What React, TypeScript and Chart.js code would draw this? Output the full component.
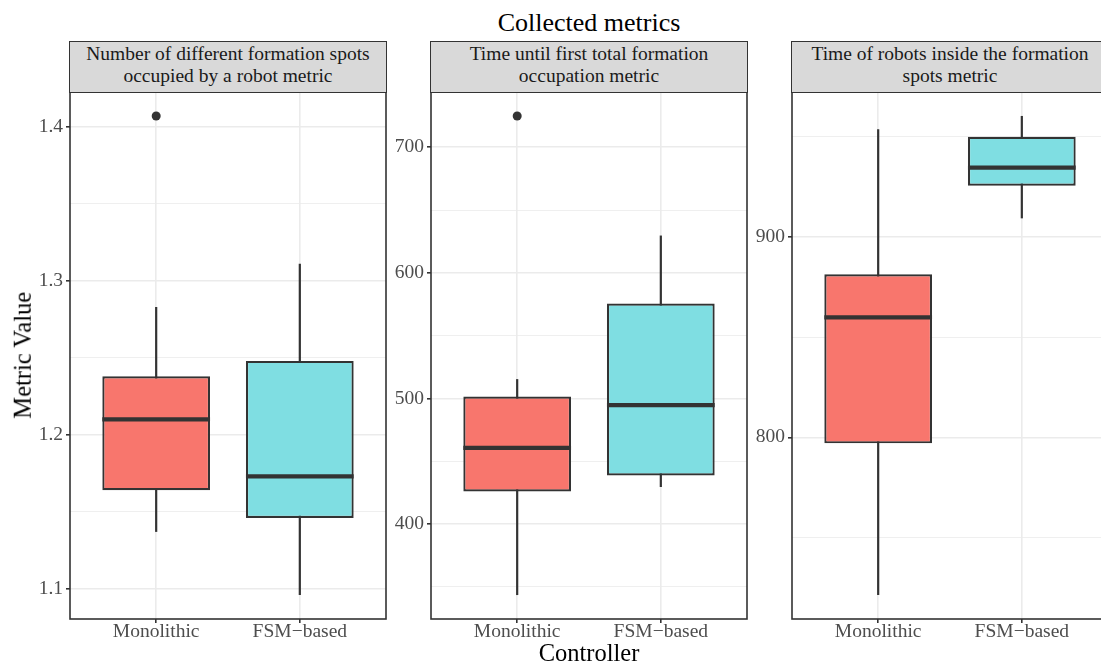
import React, { useEffect, useRef } from 'react';
import { Chart, registerables } from 'chart.js';

Chart.register(...registerables);

// ---------- data ----------
const categories = ['Monolithic', 'FSM−based'];
const categoryX = [1, 2];
const boxColors = ['rgb(248,118,109)', 'rgb(127,222,226)'];

const chartTitle = 'Collected metrics';
const xAxisTitle = 'Controller';
const yAxisTitle = 'Metric Value';

const spotsTitle = ['Number of different formation spots', 'occupied by a robot metric'];
const spotsLower = [1.137, 1.096];
const spotsQ1 = [1.164, 1.146];
const spotsMedian = [1.21, 1.173];
const spotsQ3 = [1.238, 1.248];
const spotsUpper = [1.283, 1.311];
const spotsOutliers = [[1.407], []];
const spotsTicks = [1.1, 1.2, 1.3, 1.4];

const firstTimeTitle = ['Time until first total formation', 'occupation metric'];
const firstTimeLower = [343.5, 429.5];
const firstTimeQ1 = [426, 438.7];
const firstTimeMedian = [460.7, 494.7];
const firstTimeQ3 = [501.6, 575.6];
const firstTimeUpper = [515.4, 629.7];
const firstTimeOutliers = [[724.9], []];
const firstTimeTicks = [400, 500, 600, 700];

const insideTitle = ['Time of robots inside the formation', 'spots metric'];
const insideLower = [721.3, 909.3];
const insideQ1 = [797, 925.6];
const insideMedian = [859.9, 934.6];
const insideQ3 = [881.4, 950];
const insideUpper = [953.8, 960.4];
const insideOutliers = [[], []];
const insideTicks = [800, 900];

type PanelData = {
  title: string[];
  lower: number[];
  q1: number[];
  median: number[];
  q3: number[];
  upper: number[];
  outliers: number[][];
  ticks: number[];
};

const panels: PanelData[] = [
  { title: spotsTitle, lower: spotsLower, q1: spotsQ1, median: spotsMedian, q3: spotsQ3, upper: spotsUpper, outliers: spotsOutliers, ticks: spotsTicks },
  { title: firstTimeTitle, lower: firstTimeLower, q1: firstTimeQ1, median: firstTimeMedian, q3: firstTimeQ3, upper: firstTimeUpper, outliers: firstTimeOutliers, ticks: firstTimeTicks },
  { title: insideTitle, lower: insideLower, q1: insideQ1, median: insideMedian, q3: insideQ3, upper: insideUpper, outliers: insideOutliers, ticks: insideTicks },
];

// ---------- layout ----------
const FONT = "'Liberation Serif', 'Times New Roman', Times, serif";
const DARK = '#333333';
const GRID = '#ebebeb';
const plotLefts = [70, 431, 792];
const plotWidth = 316;
const plotTop = 92;
const plotHeight = 527;
const yAxisWidth = 60;
const xAxisHeight = 40;
const padTop = 2;
const padRight = 2;

function makePlugin(p: PanelData) {
  return {
    id: 'boxExtras',
    beforeDatasetsDraw(chart: any) {
      const { ctx, scales } = chart;
      ctx.save();
      ctx.strokeStyle = DARK;
      ctx.lineWidth = 2.2;
      categoryX.forEach((xv, i) => {
        const x = scales.x.getPixelForValue(xv);
        ctx.beginPath();
        ctx.moveTo(x, scales.y.getPixelForValue(p.lower[i]));
        ctx.lineTo(x, scales.y.getPixelForValue(p.upper[i]));
        ctx.stroke();
      });
      ctx.restore();
    },
    afterDatasetsDraw(chart: any) {
      const { ctx, scales } = chart;
      const meta = chart.getDatasetMeta(0);
      ctx.save();
      ctx.strokeStyle = DARK;
      ctx.lineWidth = 4.2;
      meta.data.forEach((el: any, i: number) => {
        const { x, width } = el.getProps(['x', 'width'], true);
        const y = scales.y.getPixelForValue(p.median[i]);
        ctx.beginPath();
        ctx.moveTo(x - width / 2, y);
        ctx.lineTo(x + width / 2, y);
        ctx.stroke();
      });
      ctx.restore();
    },
    afterDraw(chart: any) {
      const { ctx, chartArea } = chart;
      ctx.save();
      ctx.strokeStyle = DARK;
      ctx.lineWidth = 1.6;
      ctx.strokeRect(chartArea.left, chartArea.top, chartArea.right - chartArea.left, chartArea.bottom - chartArea.top);
      ctx.restore();
    },
  };
}

function Panel({ p, left }: { p: PanelData; left: number }) {
  const ref = useRef<HTMLCanvasElement>(null);
  useEffect(() => {
    if (!ref.current) return;
    const all = [...p.lower, ...p.upper, ...p.outliers.flat()];
    const dmin = Math.min(...all);
    const dmax = Math.max(...all);
    const ext = (dmax - dmin) * 0.05;
    const ymin = dmin - ext;
    const ymax = dmax + ext;
    const step = p.ticks[1] - p.ticks[0];
    const yTicks: { value: number; minor: boolean }[] = [];
    for (let k = -1; k < p.ticks.length; k++) {
      if (k >= 0) yTicks.push({ value: p.ticks[k], minor: false });
      const base = k >= 0 ? p.ticks[k] : p.ticks[0] - step;
      const mv = base + step / 2;
      if (mv >= ymin && mv <= ymax) yTicks.push({ value: mv, minor: true });
    }
    yTicks.sort((a, b) => a.value - b.value);

    const outlierPoints: { x: number; y: number }[] = [];
    p.outliers.forEach((arr, i) => arr.forEach((v) => outlierPoints.push({ x: categoryX[i], y: v })));

    const chart = new Chart(ref.current, {
      type: 'bar',
      data: {
        datasets: [
          {
            type: 'bar',
            data: categoryX.map((x, i) => ({ x, y: [p.q1[i], p.q3[i]] })) as any,
            backgroundColor: boxColors,
            borderColor: DARK,
            borderWidth: 2.2,
            borderSkipped: false,
            categoryPercentage: 1,
            barPercentage: 0.75,
            grouped: false,
          } as any,
          {
            type: 'scatter',
            data: outlierPoints,
            pointRadius: 4.5,
            pointBackgroundColor: DARK,
            pointBorderWidth: 0,
            showLine: false,
          } as any,
        ],
      },
      options: {
        animation: false,
        responsive: false,
        maintainAspectRatio: false,
        devicePixelRatio: 1,
        events: [],
        layout: { autoPadding: false, padding: { top: padTop, right: padRight, left: 0, bottom: 0 } },
        plugins: { legend: { display: false }, tooltip: { enabled: false }, title: { display: false } },
        scales: {
          x: {
            type: 'linear',
            min: 0.4,
            max: 2.6,
            offset: false,
            border: { display: false },
            grid: { offset: false, color: GRID, lineWidth: 1.6, drawTicks: true, tickLength: 4, tickColor: DARK, tickWidth: 1.6 },
            ticks: {
              autoSkip: false,
              maxRotation: 0,
              minRotation: 0,
              padding: 0,
              color: '#4d4d4d',
              font: { family: FONT, size: 19.5, lineHeight: 0.9 },
              callback: (_v: any, i: number) => categories[i],
            },
            afterBuildTicks: (s: any) => {
              s.ticks = categoryX.map((v) => ({ value: v }));
            },
            afterFit: (s: any) => {
              s.height = xAxisHeight;
              s.paddingLeft = 0;
              s.paddingRight = 0;
            },
          },
          y: {
            type: 'linear',
            min: ymin,
            max: ymax,
            border: { display: false },
            grid: {
              color: GRID,
              lineWidth: (c: any) => (c.tick && c.tick.minor ? 0.8 : 1.6),
              drawTicks: true,
              tickLength: 4,
              tickWidth: 1.6,
              tickColor: (c: any) => (c.tick && c.tick.minor ? 'rgba(0,0,0,0)' : DARK),
            },
            ticks: {
              padding: 3,
              color: '#4d4d4d',
              font: { family: FONT, size: 19.5 },
              callback: (v: any, i: number, t: any[]) => (t[i] && t[i].minor ? '' : String(v)),
            },
            afterBuildTicks: (s: any) => {
              s.ticks = yTicks.map((t) => ({ value: t.value, minor: t.minor }));
            },
            afterFit: (s: any) => {
              s.width = yAxisWidth;
              s.paddingTop = 0;
              s.paddingBottom = 0;
            },
          },
        },
      } as any,
      plugins: [makePlugin(p)],
    });
    return () => chart.destroy();
  }, [p]);

  const cw = yAxisWidth + plotWidth + padRight;
  const ch = padTop + plotHeight + xAxisHeight;
  return (
    <>
      <canvas
        ref={ref}
        width={cw}
        height={ch}
        style={{ position: 'absolute', left: left - yAxisWidth, top: plotTop - padTop, width: cw, height: ch }}
      />
      <div
        style={{
          position: 'absolute',
          left: left - 0.8,
          top: 41,
          width: plotWidth + 1.6,
          height: 52,
          boxSizing: 'border-box',
          border: `1.6px solid ${DARK}`,
          background: '#d9d9d9',
          color: '#1a1a1a',
          fontFamily: FONT,
          fontSize: 19.5,
          lineHeight: '21.6px',
          textAlign: 'center',
          paddingTop: 1.2,
          whiteSpace: 'nowrap',
        }}
      >
        {p.title.map((line, i) => (
          <div key={i}>{line}</div>
        ))}
      </div>
    </>
  );
}

export default function App() {
  return (
    <div
      style={{
        position: 'absolute',
        left: 0,
        top: 0,
        width: 1101,
        height: 667,
        overflow: 'hidden',
        background: '#ffffff',
        fontFamily: FONT,
      }}
    >
      <div
        style={{
          position: 'absolute',
          left: 70,
          width: 1038,
          top: 10,
          textAlign: 'center',
          fontSize: 26,
          lineHeight: '26px',
          color: '#000',
        }}
      >
        {chartTitle}
      </div>
      {panels.map((p, i) => (
        <Panel key={i} p={p} left={plotLefts[i]} />
      ))}
      <div
        style={{
          position: 'absolute',
          left: 70,
          width: 1038,
          top: 641,
          textAlign: 'center',
          fontSize: 24.5,
          lineHeight: '24.5px',
          color: '#000',
        }}
      >
        {xAxisTitle}
      </div>
      <div
        style={{
          position: 'absolute',
          left: 23.4 - 150,
          top: 355.5 - 12.25,
          width: 300,
          height: 24.5,
          textAlign: 'center',
          fontSize: 24.5,
          lineHeight: '24.5px',
          color: '#000',
          transform: 'rotate(-90deg)',
          whiteSpace: 'nowrap',
        }}
      >
        {yAxisTitle}
      </div>
    </div>
  );
}
